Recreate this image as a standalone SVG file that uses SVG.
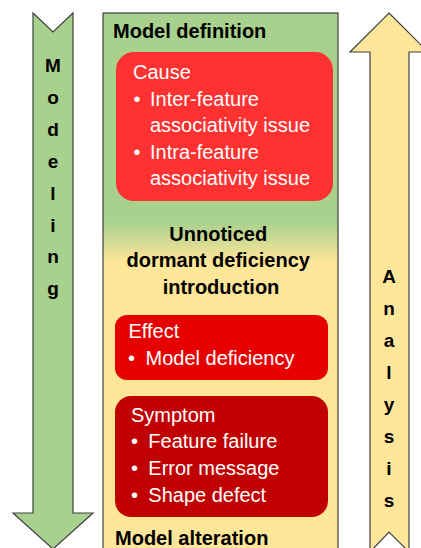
<svg xmlns="http://www.w3.org/2000/svg" width="421" height="548" viewBox="0 0 421 548">
  <defs>
    <linearGradient id="stageFill" gradientUnits="userSpaceOnUse" x1="0" y1="222" x2="0" y2="262">
      <stop offset="0" stop-color="#A9D18E"/>
      <stop offset="1" stop-color="#FFE699"/>
    </linearGradient>
    <style>
      .edge { stroke: #404040; stroke-width: 1.2; }
      .head { font-family: "Liberation Sans", Arial, sans-serif; font-weight: bold; font-size: 20px; fill: #000; }
      .body { font-family: "Liberation Sans", Arial, sans-serif; font-size: 20px; fill: #fff; }
      .letter { font-family: "Liberation Sans", Arial, sans-serif; font-weight: bold; font-size: 19px; fill: #000; text-anchor: middle; }
    </style>
  </defs>
  <rect width="421" height="548" fill="#fff"/>

  <!-- Downward modeling arrow -->
  <g id="modeling-arrow">
    <polygon class="edge" fill="#A9D18E" points="33,13 53,32 73,13 73,513 93,513 53,549 13,513 33,513"/>
    <text class="letter" x="53" y="72">M</text>
    <text class="letter" x="53" y="104">o</text>
    <text class="letter" x="53" y="136">d</text>
    <text class="letter" x="53" y="168">e</text>
    <text class="letter" x="53" y="200">l</text>
    <text class="letter" x="53" y="232">i</text>
    <text class="letter" x="53" y="263">n</text>
    <text class="letter" x="53" y="295">g</text>
  </g>

  <!-- Upward analysis arrow -->
  <g id="analysis-arrow">
    <polygon class="edge" fill="#FFE699" points="389,13 428,52 409,52 409,552 389,532 370,552 370,52 350,52"/>
    <text class="letter" x="389" y="283">A</text>
    <text class="letter" x="389" y="315">n</text>
    <text class="letter" x="389" y="347">a</text>
    <text class="letter" x="389" y="379">l</text>
    <text class="letter" x="389" y="411">y</text>
    <text class="letter" x="389" y="443">s</text>
    <text class="letter" x="389" y="475">i</text>
    <text class="letter" x="389" y="507">s</text>
  </g>

  <!-- Central stage panel -->
  <g id="stage-panel">
    <rect class="edge" x="103" y="13" width="235" height="560" fill="url(#stageFill)"/>
    <text class="head" x="113" y="38">Model definition</text>
    <text class="head" text-anchor="middle">
      <tspan x="221" y="240.5">Unnoticed</tspan>
      <tspan x="221" y="267">dormant deficiency</tspan>
      <tspan x="221" y="293.5">introduction</tspan>
    </text>
    <text class="head" x="115" y="545">Model alteration</text>
  </g>

  <!-- Cause box -->
  <g id="cause">
    <rect x="116" y="52" width="217" height="149" rx="18" fill="#FF3131"/>
    <text class="body" x="133" y="79">Cause</text>
    <text class="body" x="133.5" y="105.6">•</text>
    <text class="body" x="150" y="105.6">Inter-feature</text>
    <text class="body" x="150" y="132.2">associativity issue</text>
    <text class="body" x="133.5" y="158.8">•</text>
    <text class="body" x="150" y="158.8">Intra-feature</text>
    <text class="body" x="150" y="185.4">associativity issue</text>
  </g>

  <!-- Effect box -->
  <g id="effect">
    <rect x="115" y="315" width="213" height="65" rx="12" fill="#E60000"/>
    <text class="body" x="128.5" y="338">Effect</text>
    <text class="body" x="128" y="365">•</text>
    <text class="body" x="145.5" y="365">Model deficiency</text>
  </g>

  <!-- Symptom box -->
  <g id="symptom">
    <rect x="115" y="396" width="213" height="121" rx="16" fill="#C00000"/>
    <text class="body" x="131" y="421.7">Symptom</text>
    <text class="body" x="131" y="448.3">•</text>
    <text class="body" x="148.3" y="448.3">Feature failure</text>
    <text class="body" x="131" y="475">•</text>
    <text class="body" x="148.3" y="475">Error message</text>
    <text class="body" x="131" y="501.7">•</text>
    <text class="body" x="148.3" y="501.7">Shape defect</text>
  </g>

  <!-- No connectors in this figure -->
  <g id="connectors"/>
</svg>
